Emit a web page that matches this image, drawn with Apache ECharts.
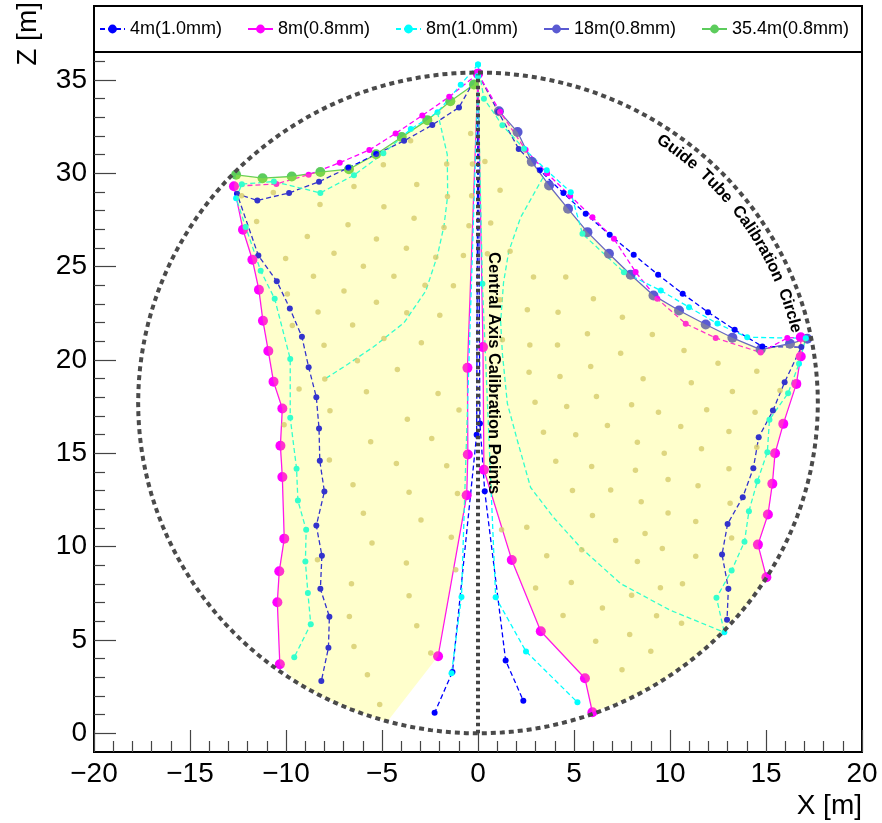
<!DOCTYPE html>
<html>
<head>
<meta charset="utf-8">
<script src="https://cdn.jsdelivr.net/npm/echarts@6/dist/echarts.min.js"></script>
<style>html,body{margin:0;padding:0;background:#fff}#chart{width:882px;height:823px}</style>
</head>
<body>
<div id="chart"></div>
<script>
// ---------------- data ----------------
const seriesNames = ['4m(1.0mm)', '8m(0.8mm)', '8m(1.0mm)', '18m(0.8mm)', '35.4m(0.8mm)'];

const xTickValues = [-20, -15, -10, -5, 0, 5, 10, 15, 20];
const xMinorTickValues = [-19,-18,-17,-16,-14,-13,-12,-11,-9,-8,-7,-6,-4,-3,-2,-1,1,2,3,4,6,7,8,9,11,12,13,14,16,17,18,19];
const yTickValues = [0, 5, 10, 15, 20, 25, 30, 35];
const yMinorTickValues = [1,2,3,4,6,7,8,9,11,12,13,14,16,17,18,19,21,22,23,24,26,27,28,29,31,32,33,34,36];

// 4m(1.0mm)
const blueLeftArc = [[0,35.34],[-0.99,33.53],[-2.38,32.59],[-3.85,31.74],[-5.3,31.03],[-6.75,30.3],[-8.28,29.55],[-9.84,28.95],[-11.49,28.55],[-12.55,28.9],[-11.44,25.6],[-10.48,24.22],[-9.8,22.76],[-9.17,21.24],[-8.82,19.61],[-8.42,18.01],[-8.28,16.33],[-8.24,14.6],[-8.0,12.95],[-8.42,11.13],[-8.13,9.52],[-8.21,7.74],[-7.74,6.25],[-7.79,4.58],[-8.16,2.8]];
const blueRightArc = [[0,35.34],[1.05,33.3],[2.12,31.31],[3.22,30.16],[4.45,28.94],[5.61,27.83],[6.86,26.71],[8.11,25.64],[9.38,24.57],[10.66,23.55],[11.98,22.56],[13.37,21.62],[14.81,20.72],[16.84,20.69],[15.97,18.81],[15.36,17.29],[14.62,15.86],[14.34,14.2],[13.79,12.65],[13.0,11.22],[12.71,9.58],[13.04,7.75],[12.97,6.08]];
const blueCenterLeft = [[0,35.34],[-0.07,16.0],[-1.33,3.29],[-2.26,1.1]];
const blueCenterRight = [[0,35.34],[0.1,16.6],[0.35,12.97],[1.44,3.9],[2.36,1.75]];

// 8m(0.8mm)
const magLeftOuter = [[-12.71,29.31],[-12.24,26.98],[-11.75,25.37],[-11.41,23.76],[-11.2,22.1],[-10.92,20.48],[-10.65,18.84],[-10.19,17.4],[-10.29,15.41],[-10.19,13.73],[-10.09,10.43],[-10.35,8.68],[-10.45,7.02],[-10.32,3.7]];
const magRightOuter = [[16.81,21.22],[16.81,20.19],[16.58,18.72],[15.9,16.58],[15.47,15.0],[15.33,13.37],[15.1,11.72],[14.58,10.11],[15.02,8.36]];
const magCenterLeft = [[0,35.34],[-0.55,19.58],[-0.53,14.94],[-0.59,12.75],[-2.08,4.13]];
const magCenterRight = [[0,35.34],[0.26,20.69],[0.31,14.12],[1.76,9.29],[3.27,5.47],[5.57,2.95],[5.96,1.13]];
const magDashLeft = [[0,35.34],[-1.5,34.1],[-2.9,33.1],[-4.29,32.14],[-5.66,31.25],[-7.2,30.57],[-8.82,29.93],[-10.5,29.43],[-12.71,29.31]];
const magDashRight = [[0,35.34],[1.15,33.3],[2.48,31.26],[3.6,30.0],[4.8,28.8],[5.96,27.65],[7.08,26.49],[8.21,24.71],[9.34,23.28],[10.82,21.94],[12.38,21.18],[14.72,20.4],[16.11,21.18],[16.81,21.22]];

// 8m(1.0mm)
const cyanLeftArc = [[0,35.83],[-0.9,34.75],[-2.11,33.27],[-3.5,32.37],[-4.93,31.07],[-6.46,29.9],[-8.21,28.95],[-10.63,29.56],[-12.3,29.42],[-12.6,28.67],[-12.1,27.12],[-11.32,24.78],[-10.59,23.28],[-9.78,20.06],[-9.78,16.9],[-9.45,14.18],[-9.38,12.47],[-8.95,10.9],[-8.99,9.2],[-8.86,7.52],[-8.71,5.85],[-9.57,4.08]];
const cyanRightArc = [[0,35.83],[0.31,34.0],[1.27,32.57],[2.4,31.32],[3.58,30.16],[4.83,28.99],[5.44,26.76],[7.6,24.7],[9.52,23.72],[10.99,22.83],[12.47,21.95],[14.02,21.22],[17.07,21.16],[16.72,19.8],[16.15,18.22],[15.18,16.8],[15.07,15.06],[14.55,13.5],[14.11,11.9],[13.88,10.27],[13.21,8.72],[12.42,7.26],[12.83,5.41]];
const cyanCenterLeft = [[0,35.2],[-0.86,7.3],[-1.38,3.22]];
const cyanCenterRight = [[0,35.2],[0.23,24.08],[0.92,7.29],[2.5,4.39],[5.18,1.66]];
const cyanCurveLeft = [[-2.11,33.27],[-1.6,31.0],[-1.58,28.8],[-1.77,27.2],[-2.11,25.6],[-2.72,23.7],[-3.85,22.0],[-5.42,20.72],[-6.8,19.76],[-7.95,19.0]];
const cyanCurveRight = [[3.58,30.16],[3.35,29.71],[2.22,27.64],[1.6,25.81],[1.33,24.15],[1.18,22.06],[1.27,20.35],[1.53,17.67],[2.05,15.69],[2.74,13.17],[3.94,11.56],[5.35,9.95],[7.43,8.02],[10.0,6.6],[12.83,5.41]];

// 18m(0.8mm)
const purpleArc = [[1.09,33.33],[2.06,32.21],[2.8,30.62],[3.7,29.35],[4.69,28.1],[5.7,26.85],[6.82,25.69],[7.95,24.57],[9.14,23.46],[10.47,22.65],[11.86,21.9],[13.25,21.19],[14.72,20.56],[16.25,20.87],[17.15,21.14]];

// 35.4m(0.8mm)
const greenArc = [[-0.21,34.76],[-1.44,33.86],[-2.64,32.85],[-3.97,31.94],[-5.31,31.02],[-6.72,30.22],[-8.21,30.07],[-9.7,29.83],[-11.22,29.74],[-12.6,29.92]];

// covered calibration region
const fillLeft = [[0,35.34],[-0.21,34.76],[-1.44,33.86],[-2.64,32.85],[-3.97,31.94],[-5.31,31.02],[-6.72,30.22],[-8.21,30.07],[-9.7,29.83],[-11.22,29.74],[-12.6,29.92],[-12.71,29.31],[-12.24,26.98],[-11.75,25.37],[-11.41,23.76],[-11.2,22.1],[-10.92,20.48],[-10.65,18.84],[-10.19,17.4],[-10.29,15.41],[-10.19,13.73],[-10.09,10.43],[-10.35,8.68],[-10.45,7.02],[-10.32,3.7],[-9.5,2.77],[-8,1.91],[-6.5,1.24],[-4.72,0.64],[-2.08,4.13],[-0.59,12.75],[-0.53,14.94],[-0.55,19.58]];
const fillRight = [[0,35.34],[1.09,33.33],[2.06,32.21],[2.8,30.62],[3.7,29.35],[4.69,28.1],[5.7,26.85],[6.82,25.69],[7.95,24.57],[9.14,23.46],[10.47,22.65],[11.86,21.9],[13.25,21.19],[14.72,20.56],[16.25,20.87],[17.15,21.14],[16.81,20.19],[16.58,18.72],[15.9,16.58],[15.47,15.0],[15.33,13.37],[15.1,11.72],[14.58,10.11],[15.02,8.36],[14.0,6.87],[12.5,5.18],[11.0,3.83],[9.5,2.77],[8.0,1.91],[5.96,1.13],[5.57,2.95],[3.27,5.47],[1.76,9.29],[0.31,14.12],[0.26,20.69]];

// calibration grid points
const gridPoints = [[-3.51,31.74],[-0.38,32.14],[-4.93,30.46],[-1.63,30.5],[-0.29,30.5],[-12.31,28.8],[-10.66,28.97],[-6.46,29.29],[-3.19,29.4],[-8.23,28.33],[-4.9,28.21],[-1.59,28.76],[-0.33,28.8],[-11.53,27.42],[-6.77,27.25],[-3.33,27.59],[-0.47,27.19],[-8.89,26.61],[-5.29,26.48],[-1.77,27.1],[-10.02,25.44],[-7.5,25.72],[-3.73,25.98],[-5.97,25.02],[-2.2,25.51],[-0.76,25.6],[-8.57,24.49],[-4.38,24.49],[-9.93,23.53],[-6.98,23.7],[-2.76,24.0],[-1.28,23.98],[-5.29,23.1],[-8.33,22.57],[-3.71,22.53],[-9.67,21.85],[-1.99,22.4],[-6.53,21.87],[-4.9,21.15],[-8.02,20.79],[-2.95,20.93],[-6.28,19.96],[-4.2,19.49],[-7.98,18.98],[-9.32,18.45],[-5.81,18.3],[-2.08,18.21],[-7.71,17.28],[-3.68,16.83],[-0.99,17.32],[-10.1,16.53],[-5.59,15.62],[-2.41,15.79],[-7.74,14.64],[-4.25,14.45],[-1.63,14.34],[-6.51,13.32],[-3.59,12.92],[-1.07,12.85],[-5.97,11.79],[-2.97,11.43],[-5.52,10.19],[-1.39,10.51],[-8.36,9.3],[-3.73,9.13],[-1.16,8.77],[-6.59,8.02],[-3.59,7.37],[-6.7,6.26],[-3.19,5.77],[-6.46,4.65],[-2.46,4.3],[-5.76,3.14],[-5.12,1.54],
[0.36,30.64],[1.15,29.1],[0.66,27.34],[0.49,25.69],[1.67,25.83],[2.89,24.44],[4.57,24.44],[1.15,23.23],[2.57,22.69],[4.17,22.56],[6.01,23.28],[7.52,22.29],[5.7,21.4],[9.08,21.37],[4.14,20.8],[7.43,20.36],[1.27,21.08],[2.7,20.8],[2.66,19.35],[4.27,19.12],[5.87,19.65],[2.97,17.74],[4.62,17.51],[6.17,18.04],[3.41,16.13],[5.09,15.99],[6.74,16.49],[4.05,14.58],[5.92,14.29],[4.92,13.01],[6.91,13.04],[1.23,10.9],[2.54,11.04],[5.96,11.67],[3.58,9.52],[5.4,9.83],[7.17,10.33],[3.0,7.79],[4.86,8.08],[6.48,6.72],[4.43,6.31],[6.13,4.93],
[10.73,20.51],[12.5,19.83],[14.52,19.4],[11.11,18.78],[13.25,18.31],[15.73,18.37],[11.91,17.33],[14.43,17.2],[10.56,16.44],[13.07,16.17],[11.64,15.24],[14.52,15.33],[13.07,14.17],[11.46,13.27],[13.13,12.33],[11.34,11.35],[13.21,10.47],[11.34,9.49],[10.65,8.01],
[8.6,19.0],[8.0,17.6],[9.4,17.2],[8.3,15.6],[9.7,15.0],[8.2,14.1],[9.9,13.6],[8.5,12.4],[9.9,11.8],[8.7,10.7],[9.6,9.9],[8.3,9.2],[9.5,7.8],[8.0,7.4],[9.3,6.3],[7.9,5.3],[10.6,5.9],[9.0,4.4],[7.5,3.4]];

// guide tube circle and central axis
const circleCenterZ = 17.7;
const circleRadius = 17.7;
const centralAxis = [[0,0],[0,35.3]];

// annotation texts
const centralLabel = 'Central Axis Calibration Points';
const centralLabelPos = [0.83, 19.3];
const arcWords = ['Guide', 'Tube', 'Calibration', 'Circle'];
const arcWordAngles = [37.7, 46.9, 59.7, 73.1]; // degrees clockwise from vertical
const arcTextRadius = 17.0;

// ---------------- chart ----------------
const FONT = '"Liberation Sans", Arial, Helvetica, sans-serif';
const circlePts = [];
for (let a = 0; a <= 360; a += 2) {
  const t = a * Math.PI / 180;
  circlePts.push([circleRadius * Math.sin(t), circleCenterZ + circleRadius * Math.cos(t)]);
}

const COL = { blue: '#0000ff', mag: '#ff00ff', cyan: '#00ffff', purple: '#5a5ad2', green: '#5ccc5c' };

function lineSeries(name, data, color, opts) {
  return {
    type: 'line', name: name, data: data, z: 2,
    symbol: 'circle', symbolSize: opts.size, showSymbol: opts.size > 0,
    itemStyle: { color: color },
    lineStyle: { color: color, width: 1.3, type: opts.dash ? opts.dash : 'solid' },
    emphasis: { disabled: true }, animation: false, silent: true
  };
}

const measureCtx = document.createElement('canvas').getContext('2d');

const series = [
  lineSeries(seriesNames[4], greenArc, COL.green, { size: 10 }),
  lineSeries(seriesNames[3], purpleArc, COL.purple, { size: 10 }),
  lineSeries(seriesNames[0], blueLeftArc, COL.blue, { size: 6, dash: [5, 3] }),
  lineSeries(seriesNames[0], blueRightArc, COL.blue, { size: 6, dash: [5, 3] }),
  lineSeries(seriesNames[0], blueCenterLeft, COL.blue, { size: 6, dash: [5, 3] }),
  lineSeries(seriesNames[0], blueCenterRight, COL.blue, { size: 6, dash: [5, 3] }),
  lineSeries(seriesNames[1], magLeftOuter, COL.mag, { size: 10 }),
  lineSeries(seriesNames[1], magRightOuter, COL.mag, { size: 10 }),
  lineSeries(seriesNames[1], magCenterLeft, COL.mag, { size: 10 }),
  lineSeries(seriesNames[1], magCenterRight, COL.mag, { size: 10 }),
  lineSeries(seriesNames[1], magDashLeft, COL.mag, { size: 6, dash: [5, 3] }),
  lineSeries(seriesNames[1], magDashRight, COL.mag, { size: 6, dash: [5, 3] }),
  lineSeries(seriesNames[2], cyanLeftArc, COL.cyan, { size: 6, dash: [5, 3] }),
  lineSeries(seriesNames[2], cyanRightArc, COL.cyan, { size: 6, dash: [5, 3] }),
  lineSeries(seriesNames[2], cyanCenterLeft, COL.cyan, { size: 6, dash: [5, 3] }),
  lineSeries(seriesNames[2], cyanCenterRight, COL.cyan, { size: 6, dash: [5, 3] }),
  lineSeries(seriesNames[2], cyanCurveLeft, COL.cyan, { size: 0, dash: [5, 3] }),
  lineSeries(seriesNames[2], cyanCurveRight, COL.cyan, { size: 0, dash: [5, 3] }),
  {
    type: 'custom', name: 'coverage', silent: true, z: 3, animation: false,
    data: [[0], [1]],
    renderItem: function (params, api) {
      const poly = [fillLeft, fillRight][params.dataIndex];
      return { type: 'polygon', shape: { points: poly.map(p => api.coord(p)) },
               style: { fill: 'rgba(255,255,0,0.2)', stroke: null } };
    }
  },
  {
    type: 'scatter', name: 'grid points', data: gridPoints, z: 4, silent: true, animation: false,
    symbol: 'circle', symbolSize: 5.5, itemStyle: { color: '#d6cc6c' }, emphasis: { disabled: true }
  },
  {
    type: 'line', name: 'guide circle', data: circlePts, z: 5, silent: true, animation: false,
    showSymbol: false, lineStyle: { color: '#4a4a4a', width: 4, type: [5, 4] }, emphasis: { disabled: true }
  },
  {
    type: 'line', name: 'central axis', data: centralAxis, z: 5, silent: true, animation: false,
    showSymbol: false, lineStyle: { color: '#444444', width: 4, type: [3.5, 3.5] }, emphasis: { disabled: true }
  },
  {
    type: 'custom', name: 'annotations', silent: true, z: 6, animation: false, clip: false,
    data: [[0, 0]],
    renderItem: function (params, api) {
      const children = [];
      const cp = api.coord(centralLabelPos);
      children.push({ type: 'text', x: cp[0], y: cp[1], rotation: -Math.PI / 2,
        style: { text: centralLabel, font: 'bold 16.5px ' + FONT, fill: '#000', align: 'center', verticalAlign: 'middle' } });
      const arcFont = 'bold 16.5px ' + FONT;
      measureCtx.font = arcFont;
      const sz = api.size([arcTextRadius, arcTextRadius]);
      const rPx = (sz[0] + sz[1]) / 2;
      arcWords.forEach(function (word, wi) {
        const widths = word.split('').map(ch => measureCtx.measureText(ch).width);
        const total = widths.reduce((a, b) => a + b, 0);
        let acc = 0;
        word.split('').forEach(function (ch, i) {
          const s = acc + widths[i] / 2 - total / 2;
          acc += widths[i];
          const th = arcWordAngles[wi] * Math.PI / 180 + s / rPx;
          const p = api.coord([arcTextRadius * Math.sin(th), circleCenterZ + arcTextRadius * Math.cos(th)]);
          children.push({ type: 'text', x: p[0], y: p[1], rotation: -th,
            style: { text: ch, font: arcFont, fill: '#000', align: 'center', verticalAlign: 'middle' } });
        });
      });
      return { type: 'group', children: children };
    }
  }
];

const minusFmt = v => String(v).replace('-', '\u2212');
const tickStyle = { color: '#444', width: 1.2 };

const option = {
  animation: false,
  backgroundColor: '#ffffff',
  grid: { left: 94, right: 20, top: 52, bottom: 71, show: true, borderColor: '#000', borderWidth: 2, backgroundColor: 'transparent' },
  legend: {
    data: seriesNames, left: 99, top: 20, itemGap: 25, itemWidth: 25, itemHeight: 11, padding: 0,
    selectedMode: false, textStyle: { fontSize: 18, fontFamily: FONT, color: '#000' }
  },
  xAxis: [
    { type: 'value', min: -20, max: 20, position: 'bottom',
      axisLine: { show: false, onZero: false }, splitLine: { show: false },
      axisTick: { show: true, inside: true, length: 22, customValues: xTickValues, lineStyle: tickStyle },
      axisLabel: { customValues: xTickValues, formatter: minusFmt, fontSize: 28, fontFamily: FONT, color: '#000', margin: 8 } },
    { type: 'value', min: -20, max: 20, position: 'bottom',
      axisLine: { show: false, onZero: false }, splitLine: { show: false }, axisLabel: { show: false },
      axisTick: { show: true, inside: true, length: 11, customValues: xMinorTickValues, lineStyle: tickStyle } }
  ],
  yAxis: [
    { type: 'value', min: -1, max: 36.5, position: 'left',
      axisLine: { show: false, onZero: false }, splitLine: { show: false },
      axisTick: { show: true, inside: true, length: 22, customValues: yTickValues, lineStyle: tickStyle },
      axisLabel: { customValues: yTickValues, formatter: minusFmt, fontSize: 28, fontFamily: FONT, color: '#000', margin: 7 } },
    { type: 'value', min: -1, max: 36.5, position: 'left',
      axisLine: { show: false, onZero: false }, splitLine: { show: false }, axisLabel: { show: false },
      axisTick: { show: true, inside: true, length: 11, customValues: yMinorTickValues, lineStyle: tickStyle } }
  ],
  graphic: [
    { type: 'rect', z: 0, shape: { x: 94, y: 6, width: 768, height: 46 }, style: { fill: 'transparent', stroke: '#000', lineWidth: 2 } },
    { type: 'text', x: 862, y: 806, style: { text: 'X [m]', font: '28px ' + FONT, fill: '#000', align: 'right', verticalAlign: 'middle' } },
    { type: 'text', x: 28, y: 2, rotation: Math.PI / 2, style: { text: 'Z [m]', font: '28px ' + FONT, fill: '#000', align: 'right', verticalAlign: 'middle' } }
  ],
  series: series
};

const chart = echarts.init(document.getElementById('chart'), null, { renderer: 'canvas' });
chart.setOption(option);
</script>
</body>
</html>
